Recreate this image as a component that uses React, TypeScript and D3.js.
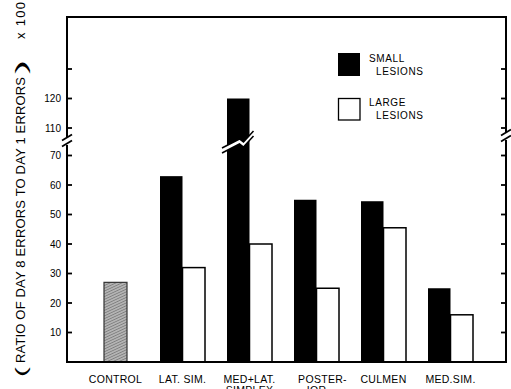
import React from 'react';
import * as d3 from 'd3';

// categories and values (ratio x 100)
const categories = ['CONTROL', 'LAT. SIM.', 'MED+LAT.', 'POSTER-', 'CULMEN', 'MED.SIM.'];
const secondLine = ['', '', 'SIMPLEX', 'IOR', '', ''];
const smallLesions = [null, 63, 120, 55, 54.5, 25];
const largeLesions = [null, 32, 40, 25, 45.5, 16];
const controlValue = [27, null, null, null, null, null];
const lowTicks = [10, 20, 30, 40, 50, 60, 70];
const highTicks = [110, 120, 130];
const highTickLabels = ['110', '120', ''];

const W = 511;
const H = 389;
const left = 67;
const right = 506;
const top = 17;
const bottom = 362;
const font = '"Liberation Sans", Arial, sans-serif';

const App: React.FC = () => {
    const x = d3.scaleBand<string>().domain(categories).range([82, 484]).padding(0);
    const yLow = d3.scaleLinear().domain([0, 70]).range([bottom, 155.5]);
    const yHigh = d3.scaleLinear().domain([110, 130]).range([128, 69]);
    const y = (v: number) => (v <= 90 ? yLow(v) : yHigh(v));
    const barW = 22.5;
    const breakY = 140;

    const axisBreak = (cx: number, cy: number) => (
        <g>
            <rect x={cx - 3} y={cy - 4} width={6} height={8} fill="#fff" />
            <line x1={cx - 5} y1={cy - 0.5} x2={cx + 5} y2={cy - 6.5} stroke="#000" strokeWidth={1.8} />
            <line x1={cx - 5} y1={cy + 5.5} x2={cx + 5} y2={cy - 0.5} stroke="#000" strokeWidth={1.8} />
        </g>
    );

    return (
        <svg width={W} height={H} style={{ position: 'absolute', left: 0, top: 0, background: '#fff' }}>
            <defs>
                <pattern id="hatch" width="2.5" height="2.5" patternUnits="userSpaceOnUse" patternTransform="rotate(65)">
                    <rect width="2.5" height="2.5" fill="#b4b4b4" />
                    <line x1="0" y1="0" x2="0" y2="2.5" stroke="#5a5a5a" strokeWidth="1" />
                </pattern>
            </defs>

            {/* y axis title */}
            <g transform="translate(25,0)">
                <text transform="translate(2,377) rotate(-90)" fontFamily={font} fontSize={17}
                    textLength={10} lengthAdjust="spacingAndGlyphs">(</text>
                <text transform="translate(0,363) rotate(-90)" fontFamily={font} fontSize={13}
                    textLength={286} lengthAdjust="spacing">RATIO OF DAY 8 ERRORS TO DAY 1 ERRORS</text>
                <text transform="translate(2,74) rotate(-90)" fontFamily={font} fontSize={17}
                    textLength={14} lengthAdjust="spacingAndGlyphs">)</text>
                <text transform="translate(0,39) rotate(-90)" fontFamily={font} fontSize={13}
                    textLength={37} lengthAdjust="spacing">x 100</text>
            </g>

            {/* bars */}
            {categories.map((c, i) => {
                const cx = x(c)! + x.bandwidth() / 2;
                const s = smallLesions[i];
                const l = largeLesions[i];
                const ctl = controlValue[i];
                return (
                    <g key={c}>
                        {ctl != null && (
                            <rect x={cx - 11.5} y={y(ctl)} width={23} height={bottom - y(ctl)}
                                fill="url(#hatch)" stroke="#333" strokeWidth={1.2} />
                        )}
                        {s != null && (
                            <rect x={cx - barW} y={y(s)} width={barW} height={bottom - y(s)} fill="#000" />
                        )}
                        {l != null && (
                            <rect x={cx} y={y(l)} width={barW} height={bottom - y(l)}
                                fill="#fff" stroke="#000" strokeWidth={1.5} />
                        )}
                        {s != null && s > 90 && (
                            <g>
                                <polygon
                                    points={`${cx - barW - 5},${breakY + 8} ${cx - 10},${breakY - 1} ${cx - 6},${breakY + 2} ${cx + 4},${breakY - 9} ${cx + 4},${breakY - 4} ${cx - 6},${breakY + 7} ${cx - 10},${breakY + 4} ${cx - barW - 5},${breakY + 13}`}
                                    fill="#fff" />
                                <polyline
                                    points={`${cx - barW - 5},${breakY + 8} ${cx - 10},${breakY - 1} ${cx - 6},${breakY + 2} ${cx + 4},${breakY - 9}`}
                                    fill="none" stroke="#000" strokeWidth={1.5} />
                                <polyline
                                    points={`${cx - barW - 5},${breakY + 13} ${cx - 10},${breakY + 4} ${cx - 6},${breakY + 7} ${cx + 4},${breakY - 4}`}
                                    fill="none" stroke="#000" strokeWidth={1.5} />
                            </g>
                        )}
                        <text x={cx + (i === 3 ? 6 : 0)} y={383} textAnchor="middle" fontFamily={font}
                            fontSize={10.5} letterSpacing={0.3}>{c}</text>
                        {secondLine[i] && (
                            <text x={cx} y={394} textAnchor="middle" fontFamily={font} fontSize={10.5}
                                letterSpacing={0.3}>{secondLine[i]}</text>
                        )}
                    </g>
                );
            })}

            {/* frame */}
            <rect x={left} y={top} width={right - left} height={bottom - top} fill="none" stroke="#000" strokeWidth={2} />

            {/* ticks */}
            {[...lowTicks.map(t => ({ v: t, label: String(t) })), ...highTicks.map((t, i) => ({ v: t, label: highTickLabels[i] }))].map(t => (
                <g key={t.v}>
                    <line x1={left} x2={left + 5} y1={y(t.v)} y2={y(t.v)} stroke="#000" strokeWidth={1.8} />
                    <line x1={right - 5} x2={right} y1={y(t.v)} y2={y(t.v)} stroke="#000" strokeWidth={1.8} />
                    {t.label && (
                        <text x={61} y={y(t.v) + 3.6} textAnchor="end" fontFamily={font} fontSize={10}>{t.label}</text>
                    )}
                </g>
            ))}

            {axisBreak(left, 141)}
            {axisBreak(right, 136)}

            {/* legend */}
            <rect x={338} y={53} width={22} height={23} fill="#000" />
            <text x={369} y={62} fontFamily={font} fontSize={10} letterSpacing={0.6}>SMALL</text>
            <text x={376} y={75} fontFamily={font} fontSize={10} letterSpacing={0.6}>LESIONS</text>
            <rect x={338.5} y={98.5} width={21.5} height={21.5} fill="#fff" stroke="#000" strokeWidth={1.3} />
            <text x={369} y={106} fontFamily={font} fontSize={10} letterSpacing={0.6}>LARGE</text>
            <text x={376} y={119} fontFamily={font} fontSize={10} letterSpacing={0.6}>LESIONS</text>
        </svg>
    );
};

export default App;
